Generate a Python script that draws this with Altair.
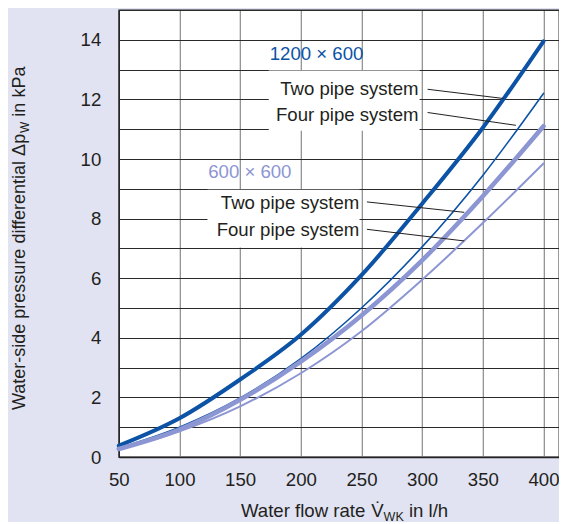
import altair as alt
import pandas as pd

# ---- data ----
flow = [50, 100, 150, 200, 250, 300, 350, 400]
dp_1200_two = [0.38, 1.3, 2.6, 4.1, 6.1, 8.5, 11.05, 13.95]
dp_1200_four = [0.3, 1.0, 1.98, 3.3, 5.0, 7.05, 9.45, 12.2]
dp_600_two = [0.27, 0.92, 1.92, 3.2, 4.75, 6.6, 8.75, 11.1]
dp_600_four = [0.25, 0.86, 1.7, 2.81, 4.22, 5.95, 7.85, 9.85]

series_names = ["1200 two", "1200 four", "600 two", "600 four"]
series_values = [dp_1200_two, dp_1200_four, dp_600_two, dp_600_four]

x_ticks = [50, 100, 150, 200, 250, 300, 350, 400]
y_grid = list(range(0, 16))

group_labels = ["1200 × 600", "600 × 600"]
system_labels = ["Two pipe system", "Four pipe system"]

# ---- styling ----
DARK = "#0c53a6"
LIGHT = "#8c96d3"
TEXT = "#231f20"
BG = "#e1e3f2"
FONT = "Liberation Sans"
FS = 18.6
line_style = {
    "1200 two": (DARK, 4.0),
    "1200 four": (DARK, 1.6),
    "600 two": (LIGHT, 4.6),
    "600 four": (LIGHT, 2.0),
}

rows = []
for name, vals in zip(series_names, series_values):
    c, w = line_style[name]
    for f, v in zip(flow, vals):
        rows.append({"series": name, "flow": f, "dp": v, "c": c, "w": w})
df = pd.DataFrame(rows)

xscale = alt.Scale(domain=[50, 412.8], nice=False, zero=False)
yscale = alt.Scale(domain=[0, 15], nice=False, zero=True)

xaxis = alt.Axis(values=x_ticks, title=None, grid=True, gridColor="#8a8a8a",
                 gridWidth=1.2, ticks=False, tickSize=0, labelFontSize=FS,
                 labelColor=TEXT, labelFont=FONT, labelPadding=13,
                 domainColor="#222222", domainWidth=1.3, labelFlush=False)
yaxis = alt.Axis(values=y_grid, title=None, grid=True, gridColor="#2a2a2a",
                 gridWidth=1, ticks=False, tickSize=0, labelFontSize=FS,
                 labelColor=TEXT, labelFont=FONT, labelPadding=18,
                 labelExpr="datum.value % 2 == 0 ? datum.label : ''",
                 domainColor="#222222", domainWidth=1.3)

# white label boxes (annotation layout)
boxes = pd.DataFrame([
    {"x1": 173.6, "x2": 297.9, "y1": 10.95, "y2": 12.97},
    {"x1": 123.1, "x2": 248.4, "y1": 7.03, "y2": 8.97},
])
box_layer = alt.Chart(boxes).mark_rect(color="white").encode(
    x=alt.X("x1:Q", scale=xscale, axis=xaxis),
    x2="x2:Q",
    y=alt.Y("y1:Q", scale=yscale, axis=yaxis),
    y2="y2:Q",
)

lines = alt.Chart(df).mark_line(interpolate="monotone", strokeCap="round").encode(
    x=alt.X("flow:Q", scale=xscale, axis=xaxis),
    y=alt.Y("dp:Q", scale=yscale, axis=yaxis),
    detail="series:N",
    color=alt.Color("c:N", scale=None),
    strokeWidth=alt.StrokeWidth("w:Q", scale=None),
)

leaders = pd.DataFrame([
    {"x1": 304.5, "y1": 12.34, "x2": 367.1, "y2": 12.03},
    {"x1": 304.5, "y1": 11.56, "x2": 377.3, "y2": 11.13},
    {"x1": 254.5, "y1": 8.56, "x2": 334.7, "y2": 8.21},
    {"x1": 254.5, "y1": 7.64, "x2": 334.7, "y2": 7.25},
])
leader_layer = alt.Chart(leaders).mark_rule(color=TEXT, strokeWidth=1).encode(
    x=alt.X("x1:Q", scale=xscale, axis=xaxis),
    y=alt.Y("y1:Q", scale=yscale, axis=yaxis),
    x2="x2:Q",
    y2="y2:Q",
)

grp = pd.DataFrame([
    {"label": group_labels[0], "x": 174.4, "y": 13.33, "c": DARK},
    {"label": group_labels[1], "x": 123.7, "y": 9.36, "c": LIGHT},
])
grp_layer = alt.Chart(grp).mark_text(align="left", baseline="alphabetic",
                                     fontSize=FS, font=FONT).encode(
    x=alt.X("x:Q", scale=xscale, axis=xaxis),
    y=alt.Y("y:Q", scale=yscale, axis=yaxis),
    text="label:N",
    color=alt.Color("c:N", scale=None),
)

sys_df = pd.DataFrame([
    {"label": system_labels[0], "x": 297.1, "y": 12.16},
    {"label": system_labels[1], "x": 297.1, "y": 11.29},
    {"label": system_labels[0], "x": 248.2, "y": 8.32},
    {"label": system_labels[1], "x": 248.2, "y": 7.41},
])
sys_layer = alt.Chart(sys_df).mark_text(align="right", baseline="alphabetic",
                                        fontSize=FS, font=FONT, color=TEXT).encode(
    x=alt.X("x:Q", scale=xscale, axis=xaxis),
    y=alt.Y("y:Q", scale=yscale, axis=yaxis),
    text="label:N",
)

# ---- axis titles with subscripts (pixel layout relative to plot) ----
tdf = pd.DataFrame({"a": [0]})


def txt(text, x, y, size=FS, angle=0, align="left"):
    return alt.Chart(tdf).mark_text(text=text, align=align, baseline="alphabetic",
                                    fontSize=size, font=FONT, color=TEXT,
                                    angle=angle).encode(x=alt.value(x), y=alt.value(y))


SUB = 12.5
xt_y = 507
xt_x = 122.2
x_title = [
    txt("Water flow rate", xt_x, xt_y),
    txt("V\u0307", xt_x + 130.2, xt_y),
    txt("WK", xt_x + 142.6, xt_y + 3.5, size=SUB),
    txt("in l/h", xt_x + 167.9, xt_y),
]

YFS = 18
YSUB = 12
yt_x = -93.8
yt_y = 400
p1 = 286.3 * YFS / 18.6
y_title = [
    txt("Water-side pressure differential Δp", yt_x, yt_y, size=YFS, angle=270),
    txt("W", yt_x + 4, yt_y - p1, size=YSUB, angle=270),
    txt("in kPa", yt_x, yt_y - p1 - 11.3 - 5.0, size=YFS, angle=270),
]

chart = alt.layer(box_layer, lines, leader_layer, grp_layer, sys_layer,
                  *x_title, *y_title).properties(
    width=440.2, height=447,
    autosize=alt.AutoSizeParams(type="none"),
    padding={"left": 110.8, "top": 2, "right": 0, "bottom": 65},
    background=BG,
).configure_view(fill="white", stroke="#222222", strokeWidth=1.3)

chart.save("out.html", embed_options={"renderer": "svg", "actions": False})
